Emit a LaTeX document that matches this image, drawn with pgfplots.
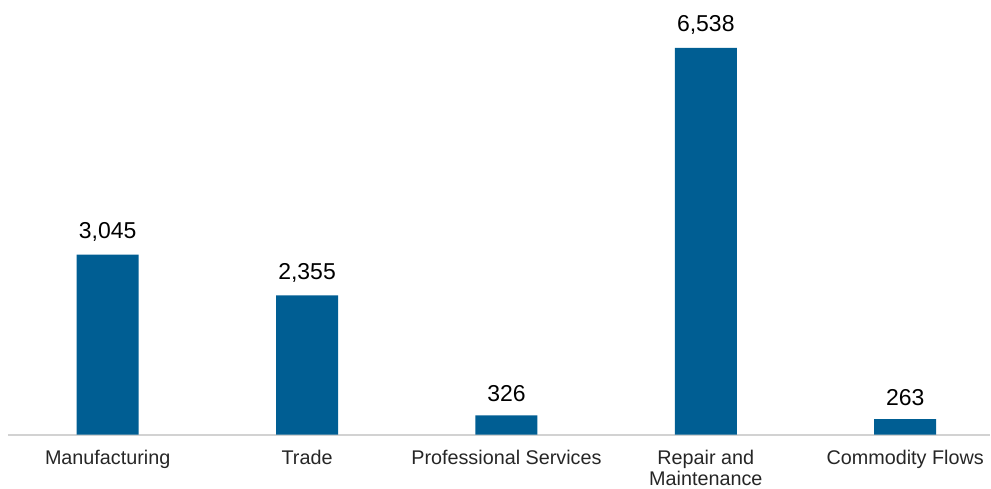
\documentclass[border=0pt]{standalone}
\usepackage{pgfplots}
\pgfplotsset{compat=1.18}
\usepackage{fontspec}
\setmainfont{Liberation Sans}
\definecolor{barblue}{RGB}{0,94,147}
\definecolor{axisgray}{RGB}{210,210,210}
\begin{document}
\begin{tikzpicture}
\begin{axis}[
    scale only axis,
    width=983pt, height=435pt,
    xmin=-0.5, xmax=4.426,
    ymin=0, ymax=7349,
    axis x line=bottom,
    axis y line=none,
    axis line style={-, draw=axisgray, line width=1.8pt},
    major tick length=0pt,
    ytick=\empty,
    xtick={0,1,2,3,4},
    xticklabels={Manufacturing, Trade, Professional Services, {Repair and\\Maintenance}, Commodity Flows},
    xticklabel style={font=\fontsize{19.8}{21.5}\selectfont, align=center, inner sep=0pt, yshift=-15pt, text=black!85},
    ybar, bar width=62pt,
    clip=false,
    nodes near coords,
    every node near coord/.append style={font=\fontsize{23}{26}\selectfont, anchor=south, inner sep=0pt, yshift=13pt, text=black},
    /pgf/number format/1000 sep={,},
    /pgf/number format/assume math mode=true,
]
\addplot[fill=barblue, draw=none] coordinates {
    (0,3045)
    (1,2355)
    (2,326)
    (3,6538)
    (4,263)
};
\path (rel axis cs:0,0) ++(-8pt,-54pt) (rel axis cs:1,1);
\end{axis}
\end{tikzpicture}
\end{document}
